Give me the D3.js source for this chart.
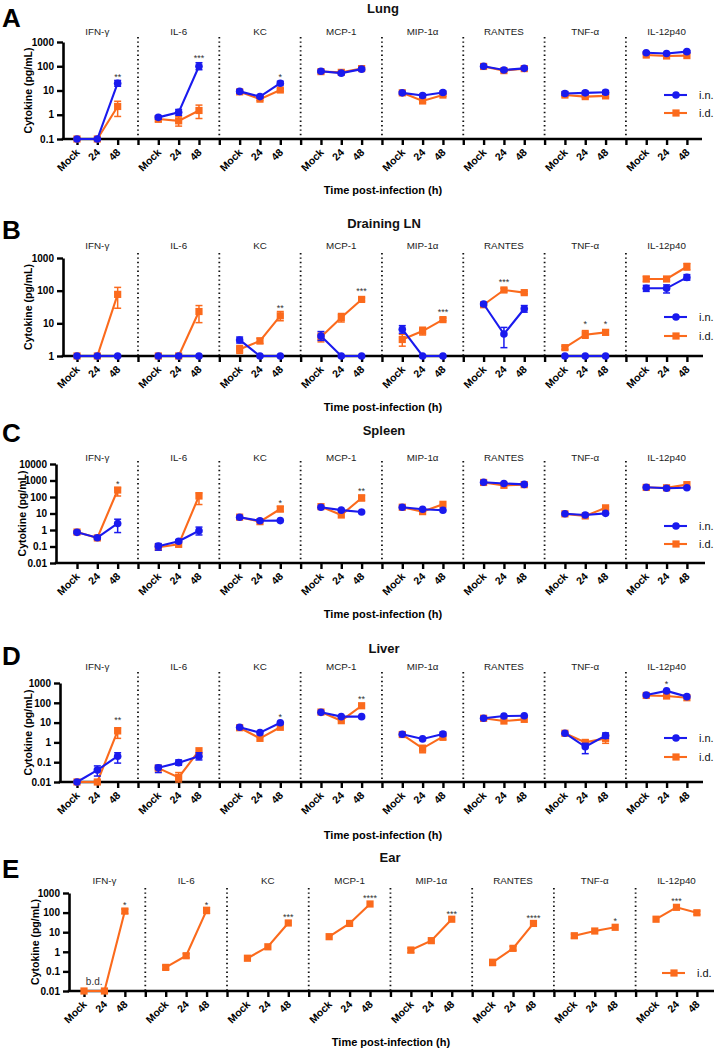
<!DOCTYPE html>
<html><head><meta charset="utf-8">
<script src="https://cdn.jsdelivr.net/npm/d3@7"></script>
<style>
body{margin:0;background:#fff;}
svg{display:block;font-family:"Liberation Sans",Arial,Helvetica,sans-serif;}
</style>
</head><body>
<svg id="chart" width="714" height="1049"></svg>
<script>
// ---------------- DATA ----------------
const cytokines = ["IFN-γ","IL-6","KC","MCP-1","MIP-1α","RANTES","TNF-α","IL-12p40"];
const timeLabels = ["Mock","24","48"];
const seriesNames = ["i.n.","i.d."];

// values: index = cytokine*3 + time (Mock, 24, 48), pg/mL
const lungIN = [0.1,0.1,20, 0.78,1.26,100, 9.2,5.6,20, 62,52,76, 8.0,6.2,8.3, 100,70,82, 7.5,8.0,8.5, 360,335,400];
const lungID = [0.1,0.1,2.2, 0.67,0.56,1.5, 8.8,4.4,10.5, 60,56,80, 8.0,3.7,6.5, 98,66,80, 6.5,5.6,6.0, 290,265,275];
const lungINerr = [null,null,[15,26], [0.65,0.92],[0.95,1.65],[72,140], [8,10.5],[5,6.3],[17,24], [55,68],[47,57],[70,85],
  [7.2,8.8],[5.5,7],[7.3,9.5], [92,110],[64,76],[76,90], [6.3,9],[6.8,9.3],[7,10], [330,390],[310,365],[360,440]];
const lungIDerr = [null,null,[0.85,3.6], [0.5,0.85],[0.34,0.85],[0.7,2.5], [8,9.6],[3.9,5],[9.3,11.8], null,null,null,
  null,[3.2,4.3],[5.8,7.3], null,null,null, [5.8,7.3],[5,6.3],[5.3,6.8], null,null,null];
const lungStars = [[0,2,"**",38],[1,2,"***",240],[2,2,"*",38]];
const lungTicks = [0.1,1,10,100,1000];

const dlnIN = [1,1,1, 1,1,1, 3.1,1,1, 4.1,1,1, 6.6,1,1, 39,4.7,28, 1,1,1, 118,118,255];
const dlnID = [1,1,77, 1,1,23, 1.6,2.9,17, 3.8,15,54, 3.2,5.8,13, 37,105,87, 1.8,4.5,5.3, 228,228,540];
const dlnINerr = [null,null,null, null,null,null, [2.5,3.8],null,null, [3,5.6],null,null,
  [5,8.5],null,null, [35,43],[1.8,7.5],[22,35], null,null,null, [95,145],[85,150],[210,310]];
const dlnIDerr = [null,null,[29,126], null,null,[10.5,35], [1.2,2.1],[2.4,3.5],[12,23], [2.7,5],[11,20],[48,60],
  [2,4.6],[4.4,7.6],[12,14.5], [34,40],[92,118],[80,95], [1.6,2.0],[3.5,6],[4.5,6.2], [190,270],[205,250],[430,680]];
const dlnStars = [[2,2,"**",32],[3,2,"***",105],[4,2,"***",24],[5,1,"***",200],[6,1,"*",10.2],[6,2,"*",10.2]];
const dlnTicks = [1,10,100,1000];

const spleenIN = [0.72,0.34,2.5, 0.105,0.21,0.9, 5.9,3.6,3.7, 24,16,12.3, 24,18,15.6, 780,660,580, 9.7,8.1,10.2, 390,340,365];
const spleenID = [0.75,0.33,265, 0.09,0.135,115, 6.0,3.2,18.7, 26,8.1,87, 24,13,36, 760,510,560, 9.5,7.1,22, 380,360,560];
const spleenINerr = [[0.62,0.85],[0.3,0.38],[0.7,4.5], [0.06,0.15],[0.17,0.26],[0.5,1.5], null,null,null, null,null,null,
  null,null,null, null,null,null, null,null,null, null,null,null];
const spleenIDerr = [null,null,[115,360], null,null,[35,180], null,null,[13,27], null,null,[60,130],
  null,null,null, null,null,null, null,null,[17,26], null,null,null];
const spleenStars = [[0,2,"*",740],[2,2,"*",48],[3,2,"**",265]];
const spleenTicks = [0.01,0.1,1,10,100,1000,10000];

const liverIN = [0.01,0.04,0.2, 0.052,0.095,0.2, 5.8,3.1,9.8, 33,20,20, 2.6,1.5,2.65, 16.5,21.6,22, 2.9,0.6,2.2, 245,400,205];
const liverID = [0.01,0.01,3.8, 0.05,0.017,0.38, 5.5,1.6,5.8, 34,12.5,71, 2.5,0.5,1.95, 16.5,12,14.6, 2.9,1.0,1.6, 235,220,180];
const liverINerr = [null,[0.02,0.065],[0.09,0.3], [0.03,0.07],[0.07,0.13],[0.13,0.3], null,null,null, null,null,null,
  null,null,[2.1,3.3], null,null,null, null,[0.27,0.9],[1.6,3.0], null,null,null];
const liverIDerr = [null,[0.01,0.012],[1.6,5.5], [0.04,0.06],[0.01,0.03],null, null,null,null, null,null,null,
  null,[0.3,0.7],[1.3,2.7], null,null,null, null,[0.8,1.3],[0.9,2.6], null,null,null];
const liverStars = [[0,2,"**",15],[2,2,"*",22],[3,2,"**",175],[7,1,"*",1000]];
const liverTicks = [0.01,0.1,1,10,100,1000];

const earID = [0.01,0.01,120, 0.16,0.63,130, 0.47,1.8,29.5, 5.9,28,275, 1.23,3.7,46, 0.29,1.5,28, 6.6,11.5,17.8, 46,186,98];
const earIDerr = [null,null,[90,150], [0.13,0.2],[0.5,0.8],[90,180], null,null,null, null,null,null,
  [0.9,1.5],null,null, [0.2,0.4],[1.2,1.9],null, [5,8],null,null, null,null,[80,120]];
const earStars = [[0,2,"*",277],[1,2,"*",290],[2,2,"***",67],[3,2,"****",650],[4,2,"***",96],[5,2,"****",61],[6,2,"*",42],[7,1,"***",440]];
const earTicks = [0.01,0.1,1,10,100,1000];
const earNote = [0, "b.d."];  // cytokine index, text (below detection)

// ---------------- STYLE / LAYOUT ----------------
const BLUE = "#1a1aee", ORANGE = "#fb6a1c";
const panels = [
  {letter:"A", title:"Lung", ins:lungIN, insErr:lungINerr, ids:lungID, idsErr:lungIDerr, stars:lungStars, ticks:lungTicks,
   letterY:27, titleY:13, titleX:383, cytY:35, dotTop:37, yTop:42, yBot:139, yAxisX:63, slot0:77, slotW:20.33, axisEnd:702,
   legY:[95,113], legX:664, xTitleY:194, xTitleX:383, yTitleX:32},
  {letter:"B", title:"Draining LN", ins:dlnIN, insErr:dlnINerr, ids:dlnID, idsErr:dlnIDerr, stars:dlnStars, ticks:dlnTicks,
   letterY:239, titleY:228, titleX:384, cytY:249, dotTop:253, yTop:258, yBot:356, yAxisX:63, slot0:77, slotW:20.33, axisEnd:703,
   legY:[317,336], legX:664, xTitleY:411, xTitleX:383, yTitleX:32},
  {letter:"C", title:"Spleen", ins:spleenIN, insErr:spleenINerr, ids:spleenID, idsErr:spleenIDerr, stars:spleenStars, ticks:spleenTicks,
   letterY:442, titleY:435, titleX:384, cytY:461, dotTop:461, yTop:464, yBot:563, yAxisX:56, slot0:77, slotW:20.33, axisEnd:705,
   legY:[526,544], legX:664, xTitleY:618, xTitleX:383, yTitleX:26},
  {letter:"D", title:"Liver", ins:liverIN, insErr:liverINerr, ids:liverID, idsErr:liverIDerr, stars:liverStars, ticks:liverTicks,
   letterY:665, titleY:653, titleX:384, cytY:670, dotTop:672, yTop:683, yBot:782, yAxisX:60, slot0:77, slotW:20.33, axisEnd:703,
   legY:[738,757], legX:664, xTitleY:839, xTitleX:383, yTitleX:32},
  {letter:"E", title:"Ear", ins:null, insErr:null, ids:earID, idsErr:earIDerr, stars:earStars, ticks:earTicks, note:earNote,
   letterY:878, titleY:862, titleX:390, cytY:884, dotTop:888, yTop:893, yBot:991, yAxisX:69, slot0:84, slotW:20.43, axisEnd:714,
   legY:[null,973], legX:662, xTitleY:1046, xTitleX:391, yTitleX:39}
];

const svg = d3.select("#chart");
const fmt = d => (d >= 1 ? d3.format("d")(d) : String(d));

function drawMarker(sel, shape, color, cx, cy) {
  if (shape === "circle") {
    sel.append("circle").attr("cx", cx).attr("cy", cy).attr("r", 3.8).attr("fill", color);
  } else {
    sel.append("rect").attr("x", cx - 3.6).attr("y", cy - 3.6).attr("width", 7.2).attr("height", 7.2).attr("fill", color);
  }
}

panels.forEach(p => {
  const g = svg.append("g");
  const x = d3.scaleLinear().domain([0, 30]).range([p.slot0, p.slot0 + 30 * p.slotW]);
  const y = d3.scaleLog().domain([p.ticks[0], p.ticks[p.ticks.length - 1]]).range([p.yBot, p.yTop]);
  const slotX = (c, t) => x(c * 4 + t);

  // panel letter and title
  g.append("text").attr("x", 2).attr("y", p.letterY).attr("font-size", 26).attr("font-weight", "bold").text(p.letter);
  g.append("text").attr("x", p.titleX).attr("y", p.titleY).attr("text-anchor", "middle")
    .attr("font-size", 13).attr("font-weight", "bold").attr("fill", "#111").text(p.title);

  // cytokine headers + dotted separators
  cytokines.forEach((c, i) => {
    g.append("text").attr("x", slotX(i, 1)).attr("y", p.cytY).attr("text-anchor", "middle")
      .attr("font-size", 9.8).attr("fill", "#222").text(c);
    if (i < cytokines.length - 1) {
      g.append("line").attr("x1", x(i * 4 + 3)).attr("x2", x(i * 4 + 3))
        .attr("y1", p.dotTop).attr("y2", p.yBot)
        .attr("stroke", "#111").attr("stroke-width", 1.8).attr("stroke-dasharray", "1.4,3");
    }
  });

  // y axis
  const yAxis = d3.axisLeft(y).tickValues(p.ticks).tickFormat(fmt).tickSize(6).tickSizeOuter(0).tickPadding(3);
  const ya = g.append("g").attr("transform", `translate(${p.yAxisX},0)`).call(yAxis);
  ya.select(".domain").attr("stroke", "#000").attr("stroke-width", 2.6);
  ya.selectAll(".tick line").attr("stroke", "#000").attr("stroke-width", 2.4);
  ya.selectAll(".tick text").attr("font-size", 10).attr("font-weight", "bold").attr("fill", "#000")
    .attr("font-family", "Liberation Sans, Arial, sans-serif");

  // x axis
  const slots = d3.range(0, 31);
  const xAxis = d3.axisBottom(x).tickValues(slots).tickSize(6).tickSizeOuter(0)
    .tickFormat(s => (s % 4 === 3 ? "" : timeLabels[s % 4]));
  const xa = g.append("g").attr("transform", `translate(0,${p.yBot})`).call(xAxis);
  xa.select(".domain").remove();
  xa.selectAll(".tick line").attr("stroke", "#000").attr("stroke-width", 2.4);
  xa.selectAll(".tick text").attr("x", 0).attr("y", 0).attr("dy", 0)
    .attr("transform", "translate(3,14) rotate(-45)").attr("text-anchor", "end")
    .attr("font-size", 10.5).attr("font-weight", "bold").attr("fill", "#000")
    .attr("font-family", "Liberation Sans, Arial, sans-serif");
  g.append("line").attr("x1", p.yAxisX - 1.3).attr("x2", p.axisEnd).attr("y1", p.yBot).attr("y2", p.yBot)
    .attr("stroke", "#000").attr("stroke-width", 2.6);

  // axis titles
  g.append("text").attr("x", p.xTitleX).attr("y", p.xTitleY).attr("text-anchor", "middle")
    .attr("font-size", 11).attr("font-weight", "bold").text("Time post-infection (h)");
  g.append("text").attr("transform", `translate(${p.yTitleX},${(p.yTop + p.yBot) / 2}) rotate(-90)`)
    .attr("text-anchor", "middle").attr("font-size", 10.5).attr("font-weight", "bold").text("Cytokine (pg/mL)");

  // series: i.d. first, then i.n. on top
  const series = [];
  if (p.ids) series.push({vals: p.ids, errs: p.idsErr, color: ORANGE, shape: "square"});
  if (p.ins) series.push({vals: p.ins, errs: p.insErr, color: BLUE, shape: "circle"});
  const line = d3.line().x(d => d[0]).y(d => d[1]);
  series.forEach(s => {
    const sg = g.append("g");
    cytokines.forEach((c, ci) => {
      const pts = [0, 1, 2].map(t => [slotX(ci, t), y(s.vals[ci * 3 + t])]);
      sg.append("path").attr("d", line(pts)).attr("fill", "none").attr("stroke", s.color).attr("stroke-width", 2.1);
      [0, 1, 2].forEach(t => {
        const e = s.errs[ci * 3 + t];
        if (e) {
          const cx = slotX(ci, t);
          const y0 = y(e[0]), y1 = y(e[1]);
          sg.append("line").attr("x1", cx).attr("x2", cx).attr("y1", y0).attr("y2", y1)
            .attr("stroke", s.color).attr("stroke-width", 1.5);
          [y0, y1].forEach(yy => sg.append("line").attr("x1", cx - 3.5).attr("x2", cx + 3.5)
            .attr("y1", yy).attr("y2", yy).attr("stroke", s.color).attr("stroke-width", 1.5));
        }
      });
      pts.forEach(pt => drawMarker(sg, s.shape, s.color, pt[0], pt[1]));
    });
  });

  // significance stars
  p.stars.forEach(([ci, t, label, v]) => {
    g.append("text").attr("x", slotX(ci, t)).attr("y", y(v) + 4).attr("text-anchor", "middle")
      .attr("font-size", 9).attr("fill", "#333").text(label);
  });

  // note (b.d.)
  if (p.note) {
    g.append("text").attr("x", (slotX(p.note[0], 0) + slotX(p.note[0], 1)) / 2).attr("y", p.yBot - 6)
      .attr("text-anchor", "middle").attr("font-size", 10).attr("fill", "#333").text(p.note[1]);
  }

  // legend
  const lx = p.legX;
  const legItems = [
    {name: seriesNames[0], color: BLUE, shape: "circle", yy: p.legY[0]},
    {name: seriesNames[1], color: ORANGE, shape: "square", yy: p.legY[1]}
  ];
  legItems.forEach(it => {
    if (it.yy == null) return;
    g.append("line").attr("x1", lx).attr("x2", lx + 23).attr("y1", it.yy).attr("y2", it.yy)
      .attr("stroke", it.color).attr("stroke-width", 2.1);
    drawMarker(g, it.shape, it.color, lx + 12, it.yy);
    g.append("text").attr("x", lx + 35).attr("y", it.yy + 4).attr("font-size", 11).attr("fill", "#111").text(it.name);
  });
});
</script>
</body></html>
